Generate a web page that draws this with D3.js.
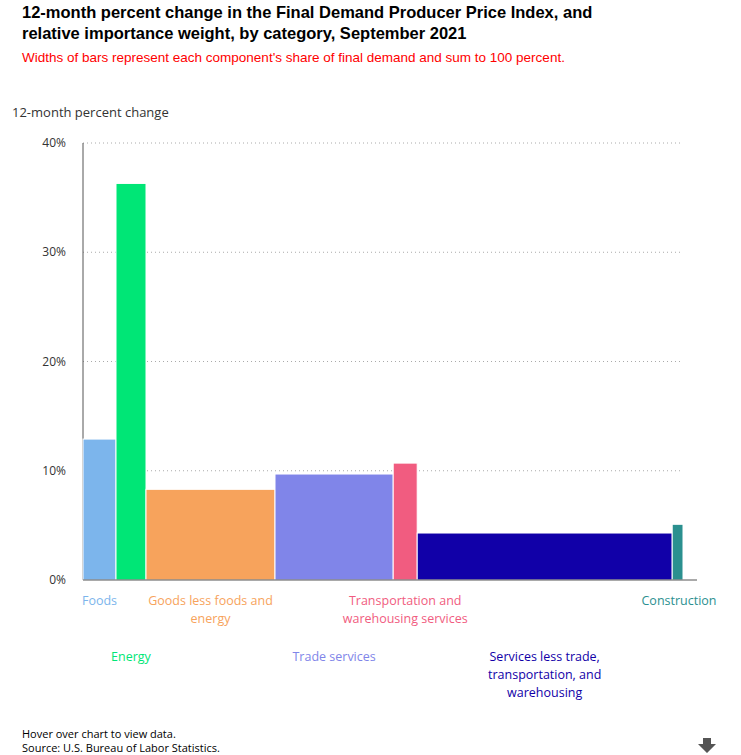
<!DOCTYPE html>
<html>
<head>
<meta charset="utf-8">
<script src="https://cdn.jsdelivr.net/npm/d3@7"></script>
<style>
body { margin: 0; background: #fff; font-family: "Open Sans", Arial, sans-serif; }
</style>
</head>
<body>
<svg id="chart" width="741" height="755"></svg>
<script>
// Chart data
var categories = ["Foods", "Energy", "Goods less foods and energy", "Trade services",
  "Transportation and warehousing services", "Services less trade, transportation, and warehousing", "Construction"];
var labelLines = [["Foods"], ["Energy"], ["Goods less foods and", "energy"], ["Trade services"],
  ["Transportation and", "warehousing services"], ["Services less trade,", "transportation, and", "warehousing"], ["Construction"]];
var weights = [5.5, 5.0, 21.5, 19.7, 4.0, 42.5, 1.8];
var changes = [12.9, 36.3, 8.3, 9.7, 10.7, 4.3, 5.1];
var colors = ["#7cb5ec", "#00e676", "#f7a35c", "#8085e9", "#f15c80", "#1100a8", "#2b908f"];
var yTicks = [0, 10, 20, 30, 40];

var svg = d3.select("#chart");

// Titles
svg.append("text").attr("x", 22).attr("y", 18).attr("font-family", "Arial, sans-serif")
  .attr("font-weight", "bold").attr("font-size", 16.5).attr("fill", "#000")
  .text("12-month percent change in the Final Demand Producer Price Index, and");
svg.append("text").attr("x", 22).attr("y", 39).attr("font-family", "Arial, sans-serif")
  .attr("font-weight", "bold").attr("font-size", 16.5).attr("fill", "#000")
  .text("relative importance weight, by category, September 2021");
svg.append("text").attr("x", 22).attr("y", 62).attr("font-family", "Arial, sans-serif")
  .attr("font-size", 13.5).attr("fill", "#ff0000")
  .text("Widths of bars represent each component's share of final demand and sum to 100 percent.");
svg.append("text").attr("x", 12).attr("y", 117).attr("font-size", 13).attr("fill", "#333")
  .text("12-month percent change");

var x = d3.scaleLinear().domain([0, 100]).range([83, 683]);
var y = d3.scaleLinear().domain([0, 40]).range([580, 143]);

// Gridlines + y labels
svg.append("g").selectAll("line").data(yTicks.slice(1)).enter().append("line")
  .attr("x1", 83).attr("x2", 683).attr("y1", d => y(d)).attr("y2", d => y(d))
  .attr("stroke", "#aaa").attr("stroke-dasharray", "1,3");
svg.append("g").selectAll("text").data(yTicks).enter().append("text")
  .attr("x", 66).attr("y", d => y(d) + 4).attr("text-anchor", "end")
  .attr("font-size", 12).attr("fill", "#333").text(d => d + "%");
svg.append("line").attr("x1", 83).attr("x2", 83).attr("y1", 143).attr("y2", 580).attr("stroke", "#555");

// Bars
var starts = [];
weights.reduce((acc, w, i) => { starts[i] = acc; return acc + w; }, 0);

svg.append("g").selectAll("rect").data(changes).enter().append("rect")
  .attr("x", (d, i) => x(starts[i]))
  .attr("width", (d, i) => x(starts[i] + weights[i]) - x(starts[i]))
  .attr("y", d => y(d))
  .attr("height", d => y(0) - y(d))
  .attr("fill", (d, i) => colors[i])
  .attr("stroke", "#fff").attr("stroke-width", 1)
  .append("title").text((d, i) => categories[i] + ": " + d + "%, weight " + weights[i] + "%");

svg.append("line").attr("x1", 83).attr("x2", 697).attr("y1", 580).attr("y2", 580).attr("stroke", "#555");

// Category labels in two staggered rows
labelLines.forEach(function(lines, i) {
  var cx = x(starts[i] + weights[i] / 2);
  if (i === 6) cx = 679;
  var baseY = (i % 2 === 0) ? 605 : 661;
  var t = svg.append("text").attr("text-anchor", "middle").attr("font-size", 12.5).attr("fill", colors[i]);
  lines.forEach(function(l, j) {
    t.append("tspan").attr("x", cx).attr("y", baseY + j * 18).text(l);
  });
});

// Footer
svg.append("text").attr("x", 22).attr("y", 738).attr("font-size", 11).attr("fill", "#000").text("Hover over chart to view data.");
svg.append("text").attr("x", 22).attr("y", 752).attr("font-size", 11).attr("fill", "#000").text("Source: U.S. Bureau of Labor Statistics.");
svg.append("path").attr("d", "M703,738 h8 v6 h5 l-9,9 l-9,-9 h5 z").attr("fill", "#555");
</script>
</body>
</html>
